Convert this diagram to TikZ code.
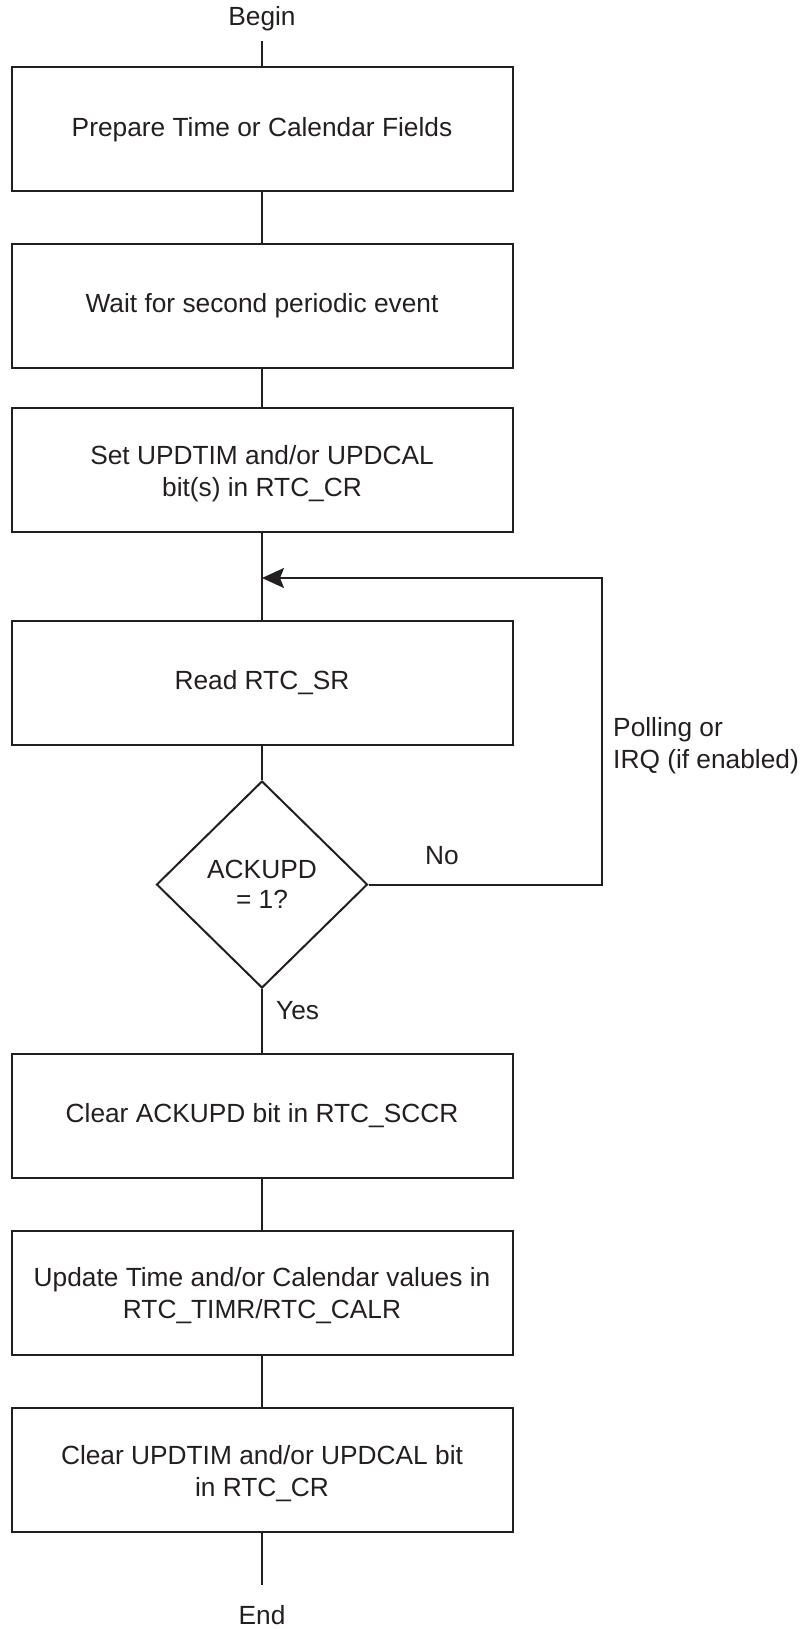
\documentclass[tikz,border=0pt]{standalone}
\usepackage{fontspec}
\setmainfont{Liberation Sans}
\usetikzlibrary{shapes.geometric,arrows.meta}
\definecolor{ink}{RGB}{35,31,32}
\tikzset{
  every node/.style={text=ink, font=\fontsize{26.3}{32}\selectfont},
  stepbox/.style={draw=ink, line width=2pt, rectangle, minimum width=501pt, minimum height=124pt, inner sep=0pt, align=center},
  twoline/.style={text height=52pt, text depth=0pt},
  decision/.style={draw=ink, line width=2pt, diamond, minimum width=211pt, minimum height=207pt, inner sep=0pt, align=center, font=\fontsize{26.3}{30}\selectfont},
  conn/.style={draw=ink, line width=2pt},
  arrowconn/.style={conn, -{Stealth[length=22pt,width=20pt,inset=4pt]}},
  lbl/.style={inner sep=0pt, anchor=base}
}
\begin{document}
\begin{tikzpicture}[x=1pt,y=-1pt]
\useasboundingbox (0,0) rectangle (807,1629);

\node[lbl] (begin) at (262,26) {Begin};
\coordinate (beginline) at (262,41.5);

\node[stepbox] (b1) at (262,129.5) {Prepare Time or Calendar Fields};
\node[stepbox] (b2) at (262,306) {Wait for second periodic event};
\node[stepbox, twoline] (b3) at (262,470) {Set UPDTIM and/or UPDCAL\\bit(s) in RTC\_CR};
\coordinate (merge) at (262,578);
\node[stepbox] (b4) at (262,683) {Read RTC\_SR};
\node[decision] (dec) at (262,884.5) {ACKUPD\\= 1?};
\node[stepbox] (b5) at (262,1115.5) {Clear ACKUPD bit in RTC\_SCCR};
\node[stepbox, twoline] (b6) at (262,1292.5) {Update Time and/or Calendar values in\\RTC\_TIMR/RTC\_CALR};
\node[stepbox, twoline] (b7) at (262,1470) {Clear UPDTIM and/or UPDCAL bit\\in RTC\_CR};
\coordinate (endline) at (262,1585);
\node[lbl] (end) at (262,1624) {End};

\coordinate (corner) at (602,884.5);

\node[lbl] (no) at (442,864) {No};
\node[lbl, anchor=base west] (yes) at (276,1019) {Yes};
\node[lbl, anchor=base west] (poll1) at (613,736) {Polling or};
\node[lbl, anchor=base west] (poll2) at (613,768) {IRQ (if enabled)};

\draw[conn] (beginline) -- (b1.north);
\draw[conn] (b1.south) -- (b2.north);
\draw[conn] (b2.south) -- (b3.north);
\draw[conn] (b3.south) -- (b4.north);
\draw[conn] (b4.south) -- (dec.north);
\draw[conn] (dec.south) -- (b5.north);
\draw[conn] (b5.south) -- (b6.north);
\draw[conn] (b6.south) -- (b7.north);
\draw[conn] (b7.south) -- (endline);
\draw[arrowconn] (dec.east) -- (corner) |- (merge);
\end{tikzpicture}
\end{document}
